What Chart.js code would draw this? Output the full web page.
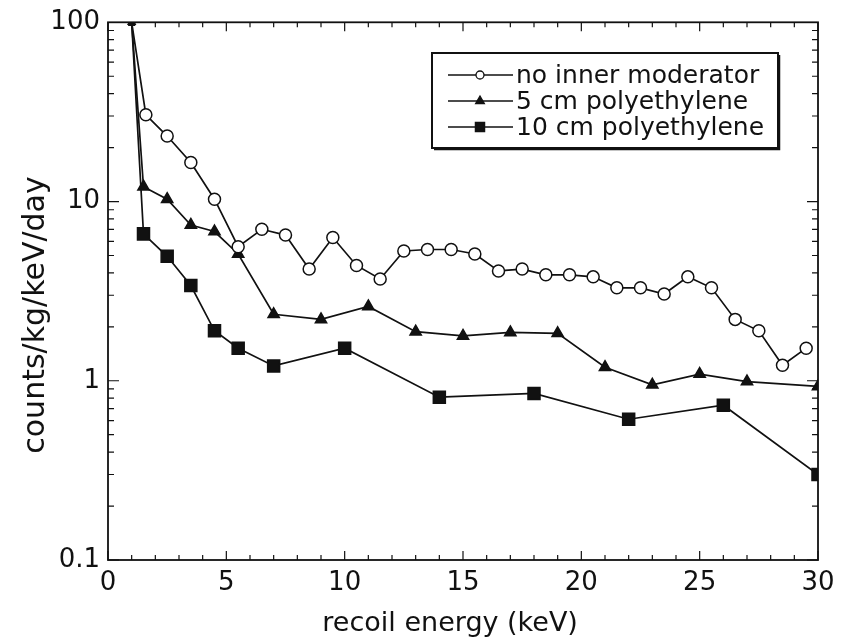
<!DOCTYPE html>
<html><head><meta charset="utf-8">
<script src="https://cdn.jsdelivr.net/npm/chart.js@4.4.0/dist/chart.umd.min.js"></script>
<style>html,body{margin:0;padding:0;background:#fff;}#wrap{width:846px;height:643px;}</style>
</head><body><div id="wrap"><canvas id="c" width="846" height="643"></canvas></div>
<script>
// ---- data ----
const seriesLabels = ['no inner moderator', '5 cm polyethylene', '10 cm polyethylene'];

const energyNone = [1.0, 1.6, 2.5, 3.5, 4.5, 5.5, 6.5, 7.5, 8.5, 9.5, 10.5, 11.5, 12.5, 13.5, 14.5, 15.5, 16.5, 17.5, 18.5, 19.5, 20.5, 21.5, 22.5, 23.5, 24.5, 25.5, 26.5, 27.5, 28.5, 29.5];
const countsNone = [100, 30.5, 23.2, 16.5, 10.3, 5.6, 7.0, 6.5, 4.2, 6.3, 4.4, 3.7, 5.3, 5.4, 5.4, 5.1, 4.1, 4.2, 3.9, 3.9, 3.8, 3.3, 3.3, 3.05, 3.8, 3.3, 2.2, 1.9, 1.22, 1.52];

const energy5cm = [1.0, 1.5, 2.5, 3.5, 4.5, 5.5, 7.0, 9.0, 11.0, 13.0, 15.0, 17.0, 19.0, 21.0, 23.0, 25.0, 27.0, 30.0];
const counts5cm = [100, 12.1, 10.3, 7.4, 6.8, 5.1, 2.35, 2.2, 2.6, 1.88, 1.78, 1.86, 1.84, 1.19, 0.95, 1.09, 0.99, 0.93];

const energy10cm = [1.0, 1.5, 2.5, 3.5, 4.5, 5.5, 7.0, 10.0, 14.0, 18.0, 22.0, 26.0, 30.0];
const counts10cm = [100, 6.6, 4.95, 3.4, 1.9, 1.52, 1.21, 1.52, 0.81, 0.85, 0.61, 0.73, 0.30];

const yTickValues = [0.1, 1, 10, 100];
const xTitle = 'recoil energy (keV)';
const yTitle = 'counts/kg/keV/day';

// ---- helpers ----
const FONT = "'DejaVu Sans', sans-serif";
const INK = '#111';
const toPts = (xs, ys) => xs.map((v, i) => ({x: v, y: ys[i]}));

const seriesStyles = [
  {pointStyle: 'circle', radius: 6, fill: '#fff', legendRadius: 4, firstRadius: 0},
  {pointStyle: 'triangle', radius: 6.5, fill: INK, legendRadius: 5, firstRadius: 4},
  {pointStyle: 'rect', radius: 8.5, fill: INK, legendRadius: 6.5, firstRadius: 4}
];
const seriesData = [toPts(energyNone, countsNone), toPts(energy5cm, counts5cm), toPts(energy10cm, counts10cm)];

const datasets = seriesData.map((d, i) => ({
  label: seriesLabels[i],
  data: d,
  borderColor: INK,
  borderWidth: 1.7,
  pointStyle: seriesStyles[i].pointStyle,
  pointRadius: d.map((p, j) => j === 0 ? seriesStyles[i].firstRadius : seriesStyles[i].radius),
  pointBackgroundColor: seriesStyles[i].fill,
  pointBorderColor: INK,
  pointBorderWidth: 1.5,
  tension: 0,
  fill: false
}));

// inward ticks + frame
const frameTicks = {
  id: 'frameTicks',
  afterDatasetsDraw(chart) {
    const {ctx, chartArea: a, scales: {x, y}} = chart;
    ctx.save();
    ctx.strokeStyle = INK;
    ctx.lineWidth = 1.2;
    ctx.beginPath();
    for (let v = Math.ceil(x.min); v <= x.max; v++) {
      const px = x.getPixelForValue(v);
      const L = v % 5 === 0 ? 9 : 5;
      ctx.moveTo(px, a.bottom); ctx.lineTo(px, a.bottom - L);
      ctx.moveTo(px, a.top); ctx.lineTo(px, a.top + L);
    }
    for (let e = -1; e <= 1; e++) {
      for (let m = 1; m <= 9; m++) {
        const v = m * Math.pow(10, e);
        const py = y.getPixelForValue(v);
        const L = m === 1 ? 11 : 6;
        ctx.moveTo(a.left, py); ctx.lineTo(a.left + L, py);
        ctx.moveTo(a.right, py); ctx.lineTo(a.right - L, py);
      }
    }
    ctx.stroke();
    ctx.lineWidth = 1.8;
    ctx.strokeRect(a.left, a.top, a.right - a.left, a.bottom - a.top);
    ctx.restore();
  }
};

// boxed legend inside the plot (line + marker sample)
const boxLegend = {
  id: 'boxLegend',
  afterDraw(chart) {
    const {ctx} = chart;
    const bx = 432, by = 53, bw = 346, bh = 95;
    ctx.save();
    ctx.fillStyle = '#fff';
    ctx.fillRect(bx, by, bw, bh);
    ctx.strokeStyle = INK;
    ctx.lineWidth = 2;
    ctx.strokeRect(bx, by, bw, bh);
    ctx.lineWidth = 1.5;
    ctx.beginPath();
    ctx.moveTo(bx + bw + 1.5, by + 2); ctx.lineTo(bx + bw + 1.5, by + bh + 1.5); ctx.lineTo(bx + 2, by + bh + 1.5);
    ctx.stroke();
    ctx.font = '25px ' + FONT;
    ctx.textBaseline = 'middle';
    ctx.textAlign = 'left';
    chart.data.datasets.forEach((ds, i) => {
      const cy = by + 22 + i * 26;
      ctx.strokeStyle = INK;
      ctx.lineWidth = 1.5;
      ctx.beginPath();
      ctx.moveTo(bx + 16, cy); ctx.lineTo(bx + 81, cy);
      ctx.stroke();
      ctx.fillStyle = seriesStyles[i].fill;
      ctx.strokeStyle = INK;
      ctx.lineWidth = 1.3;
      Chart.helpers.drawPoint(ctx, {pointStyle: ds.pointStyle, radius: seriesStyles[i].legendRadius, rotation: 0, borderWidth: 1.3}, bx + 48, cy);
      ctx.fillStyle = INK;
      ctx.fillText(ds.label, bx + 84, cy + 1);
    });
    ctx.restore();
  }
};

new Chart(document.getElementById('c'), {
  type: 'line',
  data: {datasets},
  plugins: [frameTicks, boxLegend],
  options: {
    responsive: false,
    animation: false,
    devicePixelRatio: 1,
    layout: {padding: {left: 0, right: 28, top: 15, bottom: 0}},
    plugins: {legend: {display: false}, tooltip: {enabled: false}},
    scales: {
      x: {
        type: 'linear',
        min: 0, max: 30,
        grid: {display: false, drawTicks: false},
        border: {display: false},
        afterFit(scale) { scale.height = 83; },
        ticks: {stepSize: 5, padding: 9, color: INK, font: {family: FONT, size: 26, lineHeight: 1.1}, maxRotation: 0},
        title: {display: true, text: xTitle + '   ', color: INK, font: {family: FONT, size: 27, lineHeight: 1.2}, padding: {top: 0, bottom: 3}}
      },
      y: {
        type: 'logarithmic',
        min: 0.1, max: 100,
        grid: {display: false, drawTicks: false},
        border: {display: false},
        afterFit(scale) { scale.width = 108; },
        afterBuildTicks(scale) { scale.ticks = yTickValues.map(v => ({value: v})); },
        ticks: {padding: 8, color: INK, font: {family: FONT, size: 26, lineHeight: 1.1}, callback: v => String(v)},
        title: {display: true, text: yTitle + '     ', color: INK, font: {family: FONT, size: 30, lineHeight: 1.2}, padding: {top: 18, bottom: 0}}
      }
    }
  }
});
</script>
</body></html>
